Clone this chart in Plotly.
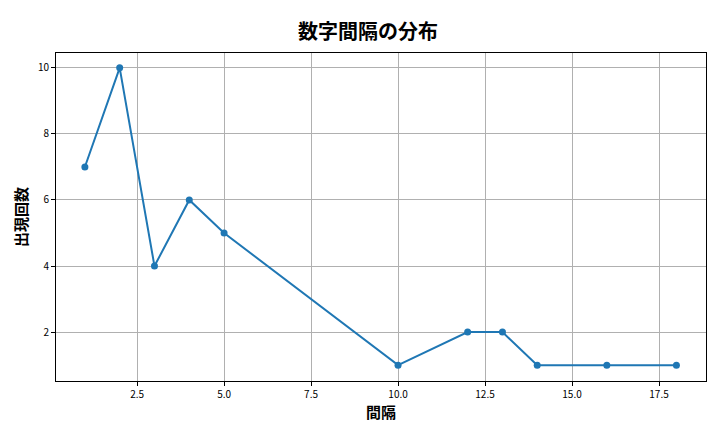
import plotly.graph_objects as go

gaps = [1, 2, 3, 4, 5, 10, 12, 13, 14, 16, 18]
counts = [7, 10, 4, 6, 5, 1, 2, 2, 1, 1, 1]

fig = go.Figure()
fig.add_trace(go.Scatter(
    x=gaps, y=counts, mode="lines+markers",
    line=dict(color="#1f77b4", width=2),
    marker=dict(color="#1f77b4", size=7),
))

axis_style = dict(
    showgrid=True, gridcolor="#b0b0b0", gridwidth=0.8,
    zeroline=False, showline=True, linecolor="black", linewidth=1, mirror=True,
    ticks="outside", ticklen=4, tickcolor="black",
    tickfont=dict(size=10, color="black"),
)

fig.update_layout(
    width=720, height=432,
    font=dict(family="Noto Sans CJK JP", color="black"),
    title=dict(text="<b>数字間隔の分布</b>", x=0.5, xanchor="center", y=0.96,
               font=dict(size=20, color="black")),
    xaxis=dict(title=dict(text="<b>間隔</b>", font=dict(size=15, color="black"), standoff=4),
               range=[0.17, 18.85], tickvals=[2.5, 5, 7.5, 10, 12.5, 15, 17.5],
               ticktext=["2.5", "5.0", "7.5", "10.0", "12.5", "15.0", "17.5"],
               **axis_style),
    yaxis=dict(title=dict(text="<b>出現回数</b>", font=dict(size=15, color="black"), standoff=6),
               range=[0.52, 10.45], tickvals=[2, 4, 6, 8, 10], **axis_style),
    plot_bgcolor="white", paper_bgcolor="white",
    margin=dict(l=48, r=22, t=45, b=59),
    showlegend=False,
)

fig.write_html("out.html")
